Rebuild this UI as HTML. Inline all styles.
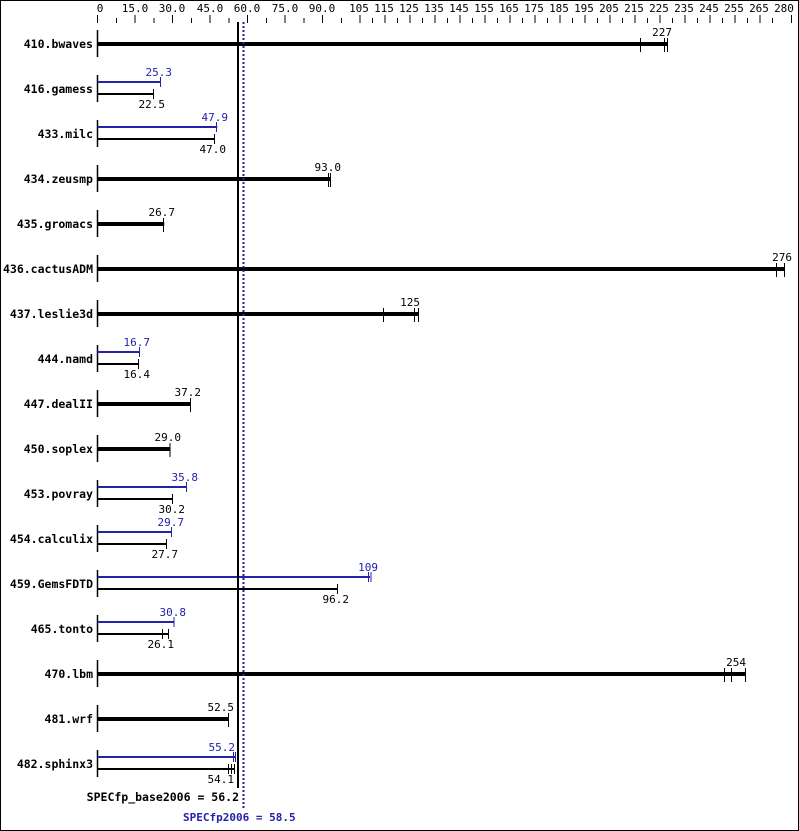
<!DOCTYPE html>
<html><head><meta charset="utf-8"><style>
html,body{margin:0;padding:0;background:#fff}
svg{display:block}
text{font-family:"DejaVu Sans Mono","Liberation Mono",monospace;font-size:11px}
.n{font-weight:bold;text-anchor:end;font-size:11.5px}
.v{text-anchor:end}
.b{fill:#2222aa}
</style></head><body>
<svg width="799" height="831" xmlns="http://www.w3.org/2000/svg">
<rect x="0.5" y="0.5" width="798" height="830" fill="#fff" stroke="#000"/>
<g fill="#000" font-size="10" text-anchor="middle">
<text x="100" y="12">0</text><text x="135" y="12">15.0</text><text x="172" y="12">30.0</text><text x="210" y="12">45.0</text><text x="247" y="12">60.0</text><text x="285" y="12">75.0</text><text x="322" y="12">90.0</text><text x="359" y="12">105</text><text x="384" y="12">115</text><text x="409" y="12">125</text><text x="434" y="12">135</text><text x="459" y="12">145</text><text x="484" y="12">155</text><text x="509" y="12">165</text><text x="534" y="12">175</text><text x="559" y="12">185</text><text x="584" y="12">195</text><text x="609" y="12">205</text><text x="634" y="12">215</text><text x="659" y="12">225</text><text x="684" y="12">235</text><text x="709" y="12">245</text><text x="734" y="12">255</text><text x="759" y="12">265</text><text x="784" y="12">280</text>
</g>
<g stroke="#000" stroke-width="1">
<path d="M97.5 15V23M135 15V23M172.5 15V23M210 15V23M247.5 15V23M285 15V23M322.5 15V23M360 15V23M385 15V23M410 15V23M435 15V23M460 15V23M485 15V23M510 15V23M535 15V23M560 15V23M585 15V23M610 15V23M635 15V23M660 15V23M685 15V23M710 15V23M735 15V23M760 15V23M791.5 15V23"/>
<path d="M116.5 18V23M154 18V23M191.5 18V23M229 18V23M266.5 18V23M304 18V23M341.5 18V23M372.5 18V23M397.5 18V23M422.5 18V23M447.5 18V23M472.5 18V23M497.5 18V23M522.5 18V23M547.5 18V23M572.5 18V23M597.5 18V23M622.5 18V23M647.5 18V23M672.5 18V23M697.5 18V23M722.5 18V23M747.5 18V23M772.5 18V23"/>
</g>
<g stroke="#000" stroke-width="1.5">
<path d="M97.5 30V57M97.5 75V102M97.5 120V147M97.5 165V192M97.5 210V237M97.5 255V282M97.5 300V327M97.5 345V372M97.5 390V417M97.5 435V462M97.5 480V507M97.5 525V552M97.5 570V597M97.5 615V642M97.5 660V687M97.5 705V732M97.5 750V777"/>
</g>
<g fill="#000">
<text class="n" x="93" y="48">410.bwaves</text>
<text class="n" x="93" y="93">416.gamess</text>
<text class="n" x="93" y="138">433.milc</text>
<text class="n" x="93" y="183">434.zeusmp</text>
<text class="n" x="93" y="228">435.gromacs</text>
<text class="n" x="93" y="273">436.cactusADM</text>
<text class="n" x="93" y="318">437.leslie3d</text>
<text class="n" x="93" y="363">444.namd</text>
<text class="n" x="93" y="408">447.dealII</text>
<text class="n" x="93" y="453">450.soplex</text>
<text class="n" x="93" y="498">453.povray</text>
<text class="n" x="93" y="543">454.calculix</text>
<text class="n" x="93" y="588">459.GemsFDTD</text>
<text class="n" x="93" y="633">465.tonto</text>
<text class="n" x="93" y="678">470.lbm</text>
<text class="n" x="93" y="723">481.wrf</text>
<text class="n" x="93" y="768">482.sphinx3</text>
</g>
<g fill="#000">
<rect x="97.5" y="42" width="570" height="4"/>
<rect x="97.5" y="177" width="233" height="4"/>
<rect x="97.5" y="222" width="66.75" height="4"/>
<rect x="97.5" y="267" width="687.5" height="4"/>
<rect x="97.5" y="312" width="321" height="4"/>
<rect x="97.5" y="402" width="93" height="4"/>
<rect x="97.5" y="447" width="72.5" height="4"/>
<rect x="97.5" y="672" width="648" height="4"/>
<rect x="97.5" y="717" width="131.25" height="4"/>
</g>
<g stroke="#000" stroke-width="1">
<path d="M640.5 38V52M664.5 38V52M667.5 38V52"/>
<path d="M328.5 173V187M330.5 173V187"/>
<path d="M163.5 218V232"/>
<path d="M776.5 263V277M784.5 263V277"/>
<path d="M383.5 308V322M414.5 308V322M418.5 308V322"/>
<path d="M190.5 398V412"/>
<path d="M170 443V457"/>
<path d="M724.5 668V682M731.5 668V682M745.5 668V682"/>
<path d="M228.5 713V727"/>
</g>
<g fill="#000">
<text class="v" x="672" y="36">227</text>
<text class="v" x="341" y="171">93.0</text>
<text class="v" x="175" y="216">26.7</text>
<text class="v" x="792" y="261">276</text>
<text class="v" x="420" y="306">125</text>
<text class="v" x="201" y="396">37.2</text>
<text class="v" x="181" y="441">29.0</text>
<text class="v" x="746" y="666">254</text>
<text class="v" x="234" y="711">52.5</text>
</g>
<g fill="#2222aa">
<rect x="97.5" y="81" width="63.25" height="2"/>
<rect x="97.5" y="126" width="119.75" height="2"/>
<rect x="97.5" y="351" width="41.75" height="2"/>
<rect x="97.5" y="486" width="89.5" height="2"/>
<rect x="97.5" y="531" width="74.25" height="2"/>
<rect x="97.5" y="576" width="272.5" height="2"/>
<rect x="97.5" y="621" width="77" height="2"/>
<rect x="97.5" y="756" width="138" height="2"/>
</g>
<g stroke="#2222aa" stroke-width="1">
<path d="M160.5 77V87M216.5 122V132M139.5 347V357M186.5 482V492M171.5 527V537M368.5 572V582M371 572V582M174 617V627M233.5 752V762M235.5 752V762"/>
</g>
<g>
<text class="v b" x="172" y="76">25.3</text>
<text class="v b" x="228" y="121">47.9</text>
<text class="v b" x="150" y="346">16.7</text>
<text class="v b" x="198" y="481">35.8</text>
<text class="v b" x="184" y="526">29.7</text>
<text class="v b" x="378" y="571">109</text>
<text class="v b" x="186" y="616">30.8</text>
<text class="v b" x="235" y="751">55.2</text>
</g>
<g fill="#000">
<rect x="97.5" y="93" width="56.25" height="2"/>
<rect x="97.5" y="138" width="117.5" height="2"/>
<rect x="97.5" y="363" width="41" height="2"/>
<rect x="97.5" y="498" width="75.5" height="2"/>
<rect x="97.5" y="543" width="69.25" height="2"/>
<rect x="97.5" y="588" width="240.5" height="2"/>
<rect x="97.5" y="633" width="71" height="2"/>
<rect x="97.5" y="768" width="137" height="2"/>
</g>
<g stroke="#000" stroke-width="1">
<path d="M153.5 89V99M214.5 134V144M138.5 359V369M172.5 494V504M166.5 539V549M337.5 584V594M162.5 629V639M168.5 629V639M228.5 764V774M231.5 764V774M234.5 764V774"/>
</g>
<g fill="#000">
<text class="v" x="165" y="108">22.5</text>
<text class="v" x="226" y="153">47.0</text>
<text class="v" x="150" y="378">16.4</text>
<text class="v" x="185" y="513">30.2</text>
<text class="v" x="178" y="558">27.7</text>
<text class="v" x="349" y="603">96.2</text>
<text class="v" x="174" y="648">26.1</text>
<text class="v" x="234" y="783">54.1</text>
</g>
<rect x="237" y="22" width="2" height="766" fill="#000"/>
<line x1="243.5" y1="22" x2="243.5" y2="808" stroke="#2222aa" stroke-width="2" stroke-dasharray="2,2"/>
<text class="n" x="239" y="801">SPECfp_base2006 = 56.2</text>
<text x="183" y="821" font-weight="bold" font-size="11.5" fill="#2222aa">SPECfp2006 = 58.5</text>
</svg>
</body></html>
